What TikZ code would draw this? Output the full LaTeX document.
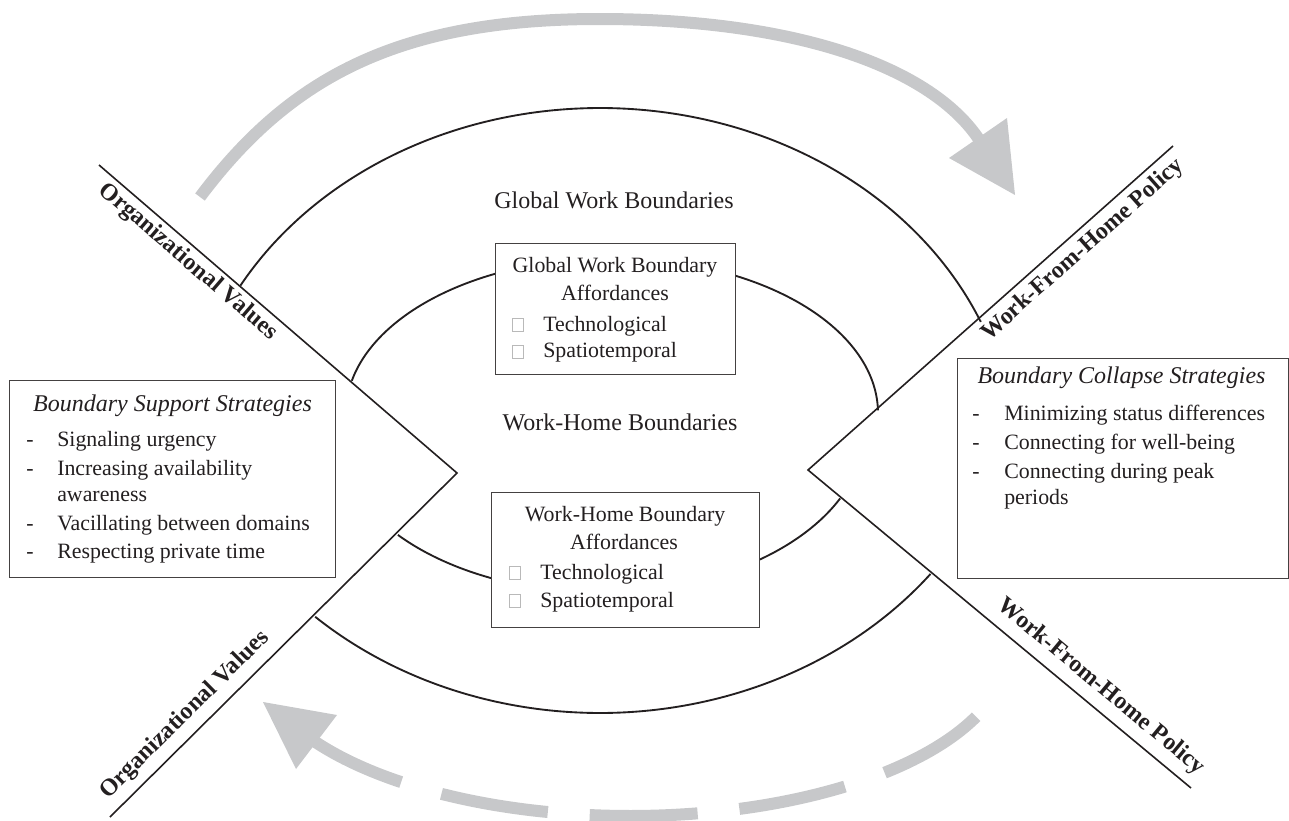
\documentclass[tikz,border=0pt]{standalone}
\usepackage{fontspec}
\setmainfont{Liberation Serif}
\definecolor{arrowgray}{RGB}{199,200,202}
\definecolor{ink}{RGB}{35,31,32}
\begin{document}
\begin{tikzpicture}[x=0.75pt,y=-0.75pt,
  axisline/.style={draw=ink, line width=1.2pt, line join=miter},
  arcline/.style={draw=ink, line width=1.4pt},
  boxframe/.style={draw=ink!85, line width=0.75pt, fill=white},
  heading/.style={font=\fontsize{18}{21}\selectfont, text=ink, inner sep=0pt, anchor=base},
  body/.style={font=\fontsize{16.4}{19}\selectfont, text=ink, inner sep=0pt, anchor=base west},
  bodyc/.style={font=\fontsize{16.4}{19}\selectfont, text=ink, inner sep=0pt, anchor=base},
  ital/.style={font=\fontsize{18}{21}\selectfont\itshape, text=ink, inner sep=0pt, anchor=base},
  axislabel/.style={font=\fontsize{18}{21}\selectfont\bfseries, text=ink, inner sep=0pt},
  sqmark/.style={draw=gray!55, line width=0.5pt, minimum width=8pt, minimum height=10pt, inner sep=0pt},
  graybar/.style={draw=arrowgray, line width=9pt},
]
\useasboundingbox (0,0) rectangle (1289,821);

% gray cycle arrows
\draw[graybar] (200,197) .. controls (290,77) and (399,19) .. (599,19)
   .. controls (789,19) and (927,64) .. (978,138) -- (983.7,146.2);
\fill[arrowgray] (1007,118) -- (1015,195) -- (949,158) -- cycle;
\draw[graybar, dash pattern=on 81pt off 31.5pt]
   plot[domain=23.7:148, samples=140] ({630+378*cos(\x)},{650+166*sin(\x)});
\fill[arrowgray] (263,702) -- (337,715) -- (296,769) -- cycle;

% boundary arcs
\draw[arcline] plot[domain=209.7:336.9, samples=140] ({600+414*cos(\x)},{460+352*sin(\x)});
\draw[arcline] plot[domain=192:359, samples=120] ({612+266*cos(\x)},{413+155*sin(\x)});
\draw[arcline] plot[domain=25:139.7, samples=120] ({600+265*cos(\x)},{429.5+163*sin(\x)});
\draw[arcline] plot[domain=38.1:132.7, samples=140] ({600+420*cos(\x)},{350+363*sin(\x)});

% axes
\coordinate (lu) at (99,165);
\coordinate (lapex) at (457,473);
\coordinate (ll) at (110,817);
\coordinate (ru) at (1173,146);
\coordinate (rapex) at (808,470);
\coordinate (rl) at (1191,788);
\draw[axisline] (lu) -- (lapex) -- (ll);
\draw[axisline] (ru) -- (rapex) -- (rl);

% boxes
\draw[boxframe] (495,243) rectangle (735,374);
\draw[boxframe] (491,492) rectangle (759,627);
\draw[boxframe] (9,380) rectangle (335,577);
\draw[boxframe] (957,358) rectangle (1288,578);

% headings
\node[heading] (gwb) at (614,208) {Global Work Boundaries};
\node[heading] (whb) at (620,430) {Work-Home Boundaries};

% global affordances box
\node[bodyc] (ga1) at (615,272) {Global Work Boundary};
\node[bodyc] (ga2) at (615,300) {Affordances};
\node[sqmark] (gsq1) at (518,325) {};
\node[body] (ga3) at (543,331) {Technological};
\node[sqmark] (gsq2) at (518,351.5) {};
\node[body] (ga4) at (543,357) {Spatiotemporal};

% work-home affordances box
\node[bodyc] (wa1) at (625,521) {Work-Home Boundary};
\node[bodyc] (wa2) at (624,549) {Affordances};
\node[sqmark] (wsq1) at (514.5,573) {};
\node[body] (wa3) at (540,579) {Technological};
\node[sqmark] (wsq2) at (514.5,600.5) {};
\node[body] (wa4) at (540,607) {Spatiotemporal};

% support strategies
\node[ital] (bs0) at (172.5,411) {Boundary Support Strategies};
\node[body] (bsd1) at (26,446) {-};
\node[body] (bs1) at (57,446) {Signaling urgency};
\node[body] (bsd2) at (26,475) {-};
\node[body] (bs2) at (57,475) {Increasing availability};
\node[body] (bs3) at (57,501) {awareness};
\node[body] (bsd4) at (26,530) {-};
\node[body] (bs4) at (57,530) {Vacillating between domains};
\node[body] (bsd5) at (26,558) {-};
\node[body] (bs5) at (57,558) {Respecting private time};

% collapse strategies
\node[ital] (bc0) at (1121.5,383) {Boundary Collapse Strategies};
\node[body] (bcd1) at (972,420) {-};
\node[body] (bc1) at (1004,420) {Minimizing status differences};
\node[body] (bcd2) at (972,449) {-};
\node[body] (bc2) at (1004,449) {Connecting for well-being};
\node[body] (bcd3) at (972,478) {-};
\node[body] (bc3) at (1004,478) {Connecting during peak};
\node[body] (bc4) at (1004,504) {periods};

% axis labels
\node[axislabel, rotate=-40.7] (ovup) at (188,262) {Organizational Values};
\node[axislabel, rotate=41.6] (wfhup) at (1083,250) {Work-From-Home Policy};
\node[axislabel, rotate=-39.7] (wfhlo) at (1101,687) {Work-From-Home Policy};
\node[axislabel, rotate=44.75] (ovlo) at (185,715) {Organizational Values};
\end{tikzpicture}
\end{document}
